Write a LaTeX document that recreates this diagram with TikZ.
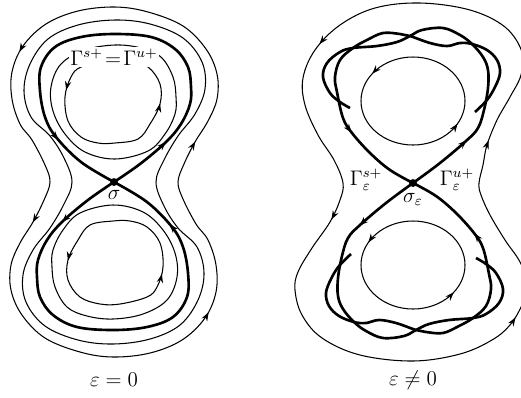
\documentclass[tikz,border=0pt]{standalone}
\usepackage{amsmath}
\usepackage{tikz}
\usetikzlibrary{arrows.meta,positioning,decorations.markings}

\begin{document}
\begin{tikzpicture}[
    x=0.02cm, y=-0.02cm,
    font=\large,
    orbit/.style={line width=0.6pt},
    manifold/.style={line width=1.5pt},
    flow/.style={postaction={decorate,decoration={markings,
        mark=at position #1 with {\arrow{Stealth[length=5pt,width=3.6pt]}}}}},
    saddle/.style={circle,fill=black,inner sep=0pt,minimum size=4.5pt},
    lab/.style={inner sep=1pt}
]
\useasboundingbox (0,0) rectangle (521,397);
\clip (0,0) rectangle (521,397);

% epsilon = 0 : the two outer orbits
\draw[orbit,flow=0.025,flow=0.34,flow=0.525,flow=0.84] plot[smooth cycle,tension=0.6] coordinates {
    (50,182) (44,200) (33,222) (20,243) (11,265) (11,290) (22,315) (45,338)
    (80,352) (113,357) (150,353) (182,340) (205,318) (216,292) (216,265) (208,240)
    (196,224) (183,199) (178,182) (184,164) (195,142) (208,121) (217,99) (217,74)
    (206,49) (183,26) (148,12) (115,7) (78,11) (46,24) (23,46) (12,72)
    (12,99) (20,124) (32,140) (45,165)};
\draw[orbit] plot[smooth cycle,tension=0.6] coordinates {
    (72,182) (64,204) (50,228) (33,250) (23,275) (26,302) (45,326) (78,340)
    (113,344) (150,339) (180,325) (198,300) (204,273) (197,247) (178,228) (164,206)
    (156,182) (164,160) (178,136) (195,114) (205,89) (202,62) (183,38) (150,24)
    (115,20) (78,25) (48,39) (30,64) (24,91) (31,117) (50,136) (64,158)};

% one loop, and the same turned round sigma
\foreach \ang in {0,180} {
\begin{scope}[rotate around={\ang:(114,182)}]
    \draw[orbit] plot[smooth cycle,tension=0.6] coordinates {
        (113,205) (80,213) (63,230) (53,250) (52,267) (55,287) (67,307) (87,316)
        (113,319) (143,314) (167,300) (177,277) (175,253) (163,230) (143,212)};
    \draw[orbit,flow=0.145,flow=0.62] plot[smooth cycle,tension=0.6] coordinates {
        (113,221) (90,225) (78,240) (68,260) (68,280) (80,297) (100,304) (120,304)
        (147,297) (157,287) (163,267) (160,243) (147,227) (130,221)};
    \draw[manifold,flow=0.14,flow=0.85] plot[smooth,tension=0.6] coordinates {
        (114,182) (88,200) (62,222) (47,240) (38,260) (37,277) (40,297) (53,315)
        (77,327) (113,330) (147,327) (173,317) (187,297) (188,273) (183,247) (172,227)
        (147,202) (114,182)};
\end{scope}
}

\node[saddle] (sigL) at (114,182) {};
\node[lab,below=1pt of sigL] (sigLlab) {$\sigma$};
\node[fill=white,inner sep=1pt] (gamL) at (114,57) {$\Gamma^{s+}\!=\!\Gamma^{u+}$};
\node (epsL) at (114,380) {$\varepsilon=0$};

% epsilon /= 0
\draw[orbit,flow=0.02,flow=0.348,flow=0.53,flow=0.84] plot[smooth cycle,tension=0.6] coordinates {
    (343,183) (340,200) (330,222) (312,248) (298,272) (295,290) (302,315) (322,338)
    (360,355) (413,361) (460,354) (492,340) (510,325) (522,305) (528,285) (520,262)
    (505,240) (490,215) (481,195) (479,183) (483,165) (487,145) (497,120) (510,97)
    (521,75) (522,52) (505,27) (470,10) (420,3) (375,8) (340,25) (315,50)
    (303,78) (305,105) (318,135) (334,160)};

\foreach \ang in {0,180} {
\begin{scope}[rotate around={\ang:(413,183)}]
    \draw[orbit,flow=0.40,flow=0.92] (465,101)
        arc[start angle=0,end angle=-360,x radius=52,y radius=44];
    % unstable branch
    \draw[manifold,flow=0.175] plot[smooth,tension=0.6] coordinates {
        (413,183) (440,163) (466,141) (478,128) (484,110) (488,88) (488,70) (483,57)
        (472,44) (460,35) (443,28) (422,30) (410,36) (397,42) (377,46) (353,48)
        (340,52) (327,63) (323,77) (330,93) (340,102) (350,108)};
    % stable branch
    \draw[manifold,flow=0.795] plot[smooth,tension=0.6] coordinates {
        (475,112) (487,100) (495,87) (500,73) (497,60) (487,50) (472,44) (460,43)
        (447,46) (430,43) (410,36) (400,34) (383,33) (367,40) (353,48) (340,60)
        (335,77) (337,92) (343,118) (352,133) (370,153) (390,170) (413,183)};
\end{scope}
}

\node[saddle] (sigR) at (413,183) {};
\node[lab,below=2pt of sigR] (sigRlab) {$\sigma_\varepsilon$};
\node[lab] (gamS) at (366,180) {$\Gamma^{s+}_\varepsilon$};
\node[lab] (gamU) at (457,180) {$\Gamma^{u+}_\varepsilon$};
\node (epsR) at (413,380) {$\varepsilon\neq0$};
\end{tikzpicture}
\end{document}
